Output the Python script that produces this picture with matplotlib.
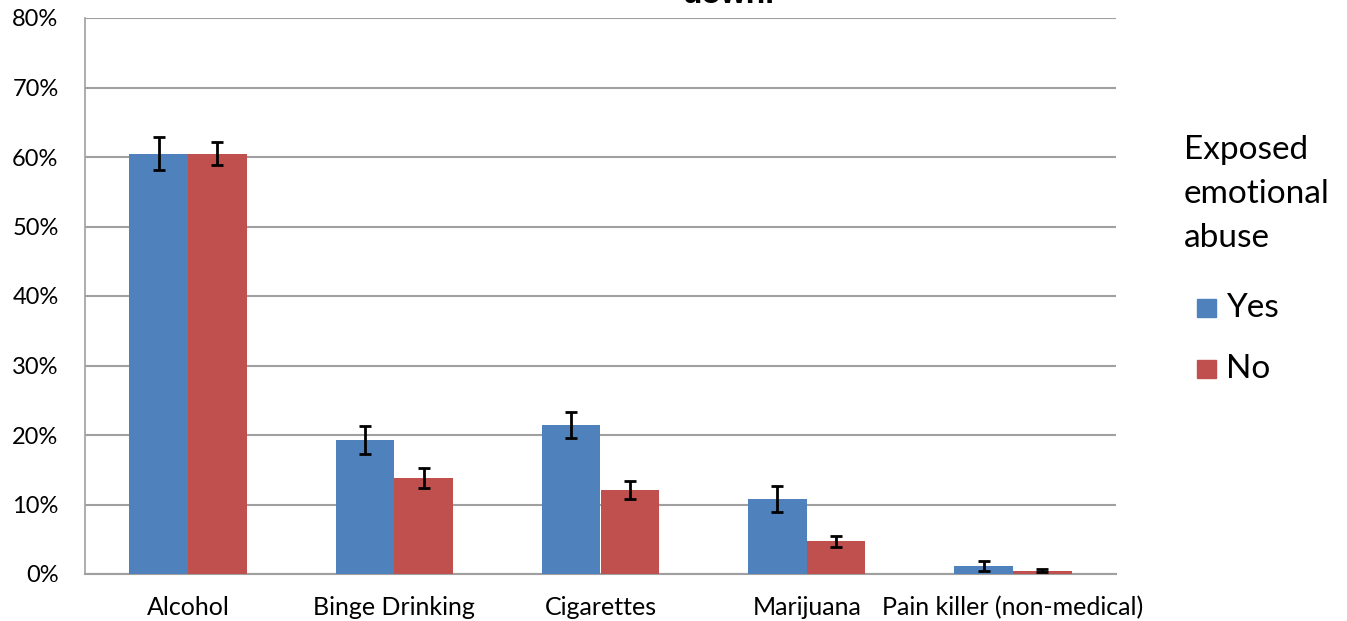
import matplotlib
matplotlib.use("Agg")
import matplotlib.pyplot as plt
import numpy as np
from matplotlib.patches import Rectangle

categories = ["Alcohol", "Binge Drinking", "Cigarettes", "Marijuana", "Pain killer (non-medical)"]
yes_vals = [60.5, 19.3, 21.4, 10.8, 1.2]
yes_err = [2.4, 2.0, 1.9, 1.9, 0.7]
no_vals = [60.5, 13.8, 12.1, 4.7, 0.45]
no_err = [1.6, 1.4, 1.3, 0.8, 0.2]
legend_title = ["Exposed", "emotional", "abuse"]
series_names = ["Yes", "No"]
yticks = [0, 10, 20, 30, 40, 50, 60, 70, 80]

blue = "#4F81BD"
red = "#C0504D"
font = ["Lato", "DejaVu Sans"]

fig = plt.figure(figsize=(13.47, 6.21), dpi=100)
ax = fig.add_axes([85/1347, 1 - 574/621, (1116-85)/1347, (574-18)/621])

x = np.arange(len(categories))
w = 0.285
ax.bar(x - w/2, yes_vals, w, color=blue, zorder=3, edgecolor="none")
ax.bar(x + w/2, no_vals, w, color=red, zorder=3, edgecolor="none")
ax.errorbar(x - w/2, yes_vals, yerr=yes_err, fmt="none", ecolor="black", elinewidth=2, capsize=4.5, capthick=2, zorder=4)
ax.errorbar(x + w/2, no_vals, yerr=no_err, fmt="none", ecolor="black", elinewidth=2, capsize=4.5, capthick=2, zorder=4)

ax.set_xlim(-0.5, len(categories) - 0.5)
ax.set_ylim(0, 80)
ax.set_yticks(yticks)
ax.set_yticklabels([f"{t}%" for t in yticks], fontsize=17, family=font)
ax.set_xticks(x)
ax.set_xticklabels(categories, fontsize=18, family=font)
ax.tick_params(axis="y", length=0, pad=19)
ax.tick_params(axis="x", length=0, pad=16)
ax.grid(axis="y", color="#A0A0A0", linewidth=1.5, zorder=0)
for s in ["top", "right"]:
    ax.spines[s].set_visible(False)
ax.spines["left"].set_color("#A0A0A0")
ax.spines["left"].set_linewidth(1.2)
ax.spines["bottom"].set_color("#A0A0A0")
ax.spines["bottom"].set_linewidth(1.5)

# cut-off title (only its last line is visible in the reference)
fig.text(729/1347, 1 + 5/621, "down.", ha="center", va="center", fontsize=23, fontweight="bold",
         family=["Liberation Sans", "DejaVu Sans"])

# legend
for i, line in enumerate(legend_title):
    fig.text(1184/1347, 1 - (150 + 44*i)/621, line, ha="left", va="center", fontsize=24, family=font)
for i, (name, col) in enumerate(zip(series_names, [blue, red])):
    yc = 308 + i * 61
    fig.patches.append(Rectangle((1197/1347, 1 - (yc + 9)/621), 19/1347, 18/621,
                                 transform=fig.transFigure, color=col, figure=fig))
    fig.text(1226/1347, 1 - yc/621, name, ha="left", va="center", fontsize=24, family=font)

fig.savefig("out.png", dpi=100)
